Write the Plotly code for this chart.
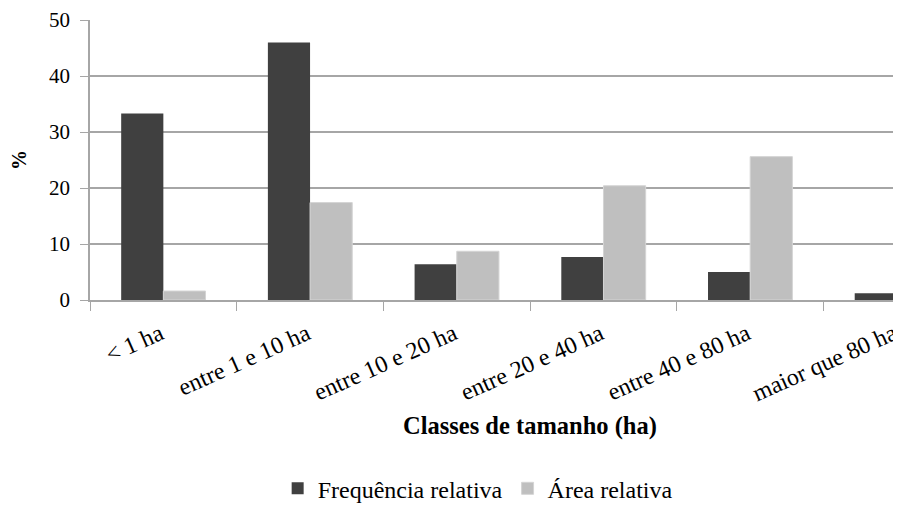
import plotly.graph_objects as go

categories = ["< 1 ha", "entre 1 e 10 ha", "entre 10 e 20 ha", "entre 20 e 40 ha",
              "entre 40 e 80 ha", "maior que 80 ha"]
freq_rel = [33.3, 46.0, 6.4, 7.7, 5.0, 1.2]
area_rel = [1.6, 17.4, 8.7, 20.4, 25.6, 25.8]
y_ticks = [0, 10, 20, 30, 40, 50]

FONT = "Times New Roman, Liberation Serif, DejaVu Serif, serif"
GRID = "#a6a6a6"

fig = go.Figure()
fig.add_trace(go.Bar(x=categories, y=freq_rel, name="Frequência relativa",
                     marker=dict(color="#404040", line=dict(width=0))))
fig.add_trace(go.Bar(x=categories, y=area_rel, name="Área relativa",
                     marker=dict(color="#bfbfbf", line=dict(width=1, color="#d4d4d4"))))

fig.update_layout(
    width=901, height=512,
    margin=dict(l=82, r=8, t=12, b=220, autoexpand=False),
    paper_bgcolor="white", plot_bgcolor="white",
    barmode="group", bargap=0.425, bargroupgap=0,
    font=dict(family=FONT, color="black", size=21),
    showlegend=True,
    legend=dict(orientation="h", x=0.478, xanchor="center", y=-0.674, yanchor="middle",
                font=dict(size=24, family=FONT), itemwidth=30, tracegroupgap=0),
)
fig.update_xaxes(
    type="category", range=[-0.5, 5.028], automargin=False,
    tickson="boundaries", ticks="outside", ticklen=9, tickcolor=GRID, tickwidth=1,
    showline=True, linecolor=GRID, linewidth=1.5,
    tickangle=-24, tickfont=dict(size=24, family=FONT),
    ticklabelstandoff=9, ticklabelshift=-3,
    showgrid=False,
)
fig.update_yaxes(
    range=[0, 50], tickvals=y_ticks, ticks="outside", ticklen=8, tickcolor=GRID,
    showline=True, linecolor=GRID, linewidth=1.5, automargin=False,
    showgrid=True, gridcolor=GRID, gridwidth=1.5,
    zeroline=False, tickfont=dict(size=21, family=FONT), ticklabelstandoff=6,
    title=dict(text="<b>%</b>", font=dict(size=20, family=FONT), standoff=20),
)
fig.add_annotation(x=2.5, xref="x", y=-0.451, yref="paper", yanchor="middle",
                   text="<b>Classes de tamanho (ha)</b>", showarrow=False,
                   font=dict(size=24.5, family=FONT, color="black"))

fig.write_html("out.html")
